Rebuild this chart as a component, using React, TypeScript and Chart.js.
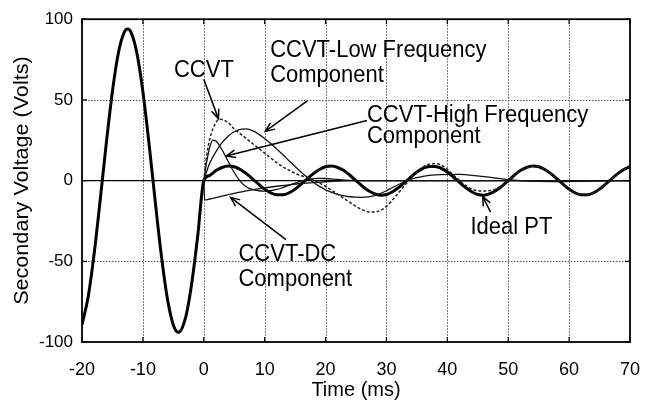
import React, { useEffect, useRef } from "react";
import { Chart, registerables } from "chart.js";

Chart.register(...registerables);

// ---------- data ----------
const xTicks = [-20, -10, 0, 10, 20, 30, 40, 50, 60, 70];
const yTicks = [-100, -50, 0, 50, 100];

// Ideal PT (bold)
const tIdeal = [
  -20, -19, -18, -17, -16, -15, -14, -13, -12.5, -12, -11, -10, -9, -8, -7, -6, -5, -4.2, -3, -2, -1,
  0, 1, 2, 3, 4, 5, 6, 7, 8, 9, 10, 11, 12, 13, 14, 15, 16, 17, 18, 19, 20,
  21, 22, 23, 24, 25, 26, 27, 28, 29, 30, 31, 32, 33, 34, 35, 36, 37, 38, 39, 40,
  41, 42, 43, 44, 45, 46, 47, 48, 49, 50, 51, 52, 53, 54, 55, 56, 57, 58, 59, 60,
  61, 62, 63, 64, 65, 66, 67, 68, 69, 70,
];
const vIdeal = [
  -89.3, -72.3, -45.1, -11.6, 23.5, 55.4, 79.5, 92.4, 94, 92.3, 79.3, 55.1, 23.2, -11.9, -45.4, -72.6, -89.5, -94, -85.0, -64.2, -34.5,
  0, 3.3, 6.2, 8.1, 9.0, 8.6, 6.9, 4.3, 1.1, -2.2, -5.3, -7.6, -8.8, -8.8, -7.6, -5.3, -2.2, 1.1, 4.3, 6.9, 8.6,
  9.0, 8.1, 6.2, 3.3, 0, -3.3, -6.2, -8.1, -9.0, -8.6, -6.9, -4.3, -1.1, 2.2, 5.3, 7.6, 8.8, 8.8, 7.6, 5.3,
  2.2, -1.1, -4.3, -6.9, -8.6, -9.0, -8.1, -6.2, -3.3, 0, 3.3, 6.2, 8.1, 9.0, 8.6, 6.9, 4.3, 1.1, -2.2, -5.3,
  -7.6, -8.8, -8.8, -7.6, -5.3, -2.2, 1.1, 4.3, 6.9, 8.6,
];

// CCVT output (dashed)
const tCcvt = [
  0, 0.5, 1, 1.5, 2, 2.5, 3, 4, 5, 6, 7, 8, 9, 10, 11, 12, 13, 14, 15, 16, 17, 18, 19, 20,
  21, 22, 23, 24, 25, 26, 27, 28, 29, 30, 31, 32, 33, 34, 35, 36, 37, 38, 39, 40,
  41, 42, 43, 44, 45, 46, 47, 48, 49, 50, 51, 52, 53, 54, 55, 56, 57, 58, 59, 60,
  61, 62, 63, 64, 65, 66, 67, 68, 69, 70,
];
const vCcvt = [
  0, 16, 26, 32, 36, 38, 37.8, 36, 32, 29, 26, 23, 20, 17, 14, 11, 8.5, 6.5, 4.5, 3, 2, 0.5, -1.5, -3.5,
  -6, -8.5, -11, -13.5, -16, -18, -19.3, -19.5, -18.5, -16, -12, -7.5, -3, 1.5, 5.5, 8.5, 10.2, 10.5, 9.5, 7,
  3.5, 0, -3, -5.2, -6.3, -6.5, -6.2, -5.2, -3, 0, 3.3, 6.2, 8.1, 9.0, 8.6, 6.9, 4.3, 1.1, -2.2, -5.3,
  -7.6, -8.8, -8.8, -7.6, -5.3, -2.2, 1.1, 4.3, 6.9, 8.6,
];

// CCVT low frequency component
const tLow = [
  0, 0.5, 1, 2, 3, 4, 5, 6, 7, 8, 9, 10, 11, 12, 13, 14, 15, 16, 17, 18, 19, 20,
  21, 22, 23, 24, 25, 26, 27, 28, 29, 30, 31, 32, 33, 34, 35, 36, 37, 38, 40,
  42, 44, 46, 48, 50, 52, 55, 58, 62, 66, 70,
];
const vLow = [
  0, 6, 11, 18, 23.5, 27.5, 30.3, 31.7, 32, 31, 28.8, 26, 23, 19.5, 16, 12.3, 8.7, 5.2, 2, -1, -3.6, -5.7,
  -7.3, -8.5, -9.4, -10, -10.3, -10.4, -10.1, -9.3, -8, -6.3, -4.3, -2.4, -0.7, 0.7, 1.8, 2.6, 3.2, 3.6, 3.9,
  3.8, 3.3, 2.5, 1.5, 0.6, 0, -0.5, -0.6, -0.4, -0.1, 0,
];

// CCVT high frequency component
const tHigh = [
  0, 0.5, 1, 1.5, 2, 3, 4, 5, 6, 7, 8, 9, 10, 11, 12, 13, 14, 15, 16, 17, 18, 19, 20, 22, 24, 26, 40, 55, 70,
];
const vHigh = [
  0, 12, 21, 25, 24.5, 19, 12, 5, -0.5, -4, -5.5, -6.3, -6.5, -6.3, -5.5, -4.3, -3, -1.6, -0.4, 0.6, 1.2, 1.4, 1.3, 0.7, 0.2, 0, 0, 0, 0,
];

// CCVT DC component
const tDc = [0, 0.15, 1, 2, 3, 4, 5, 6, 8, 10, 12, 14, 16, 18, 20, 22, 25, 40, 55, 70];
const vDc = [0, -12, -11.4, -10.5, -9.6, -8.7, -7.9, -7.1, -5.7, -4.5, -3.5, -2.6, -1.8, -1.2, -0.7, -0.3, 0, 0, 0, 0];

// ---------- annotations (data coordinates) ----------
const textItems = [
  { text: "CCVT", x: -4.9, y: 64 },
  { text: "CCVT-Low Frequency", x: 10.9, y: 76.8 },
  { text: "Component", x: 10.9, y: 61 },
  { text: "CCVT-High Frequency", x: 26.8, y: 36.6 },
  { text: "Component", x: 26.8, y: 23.2 },
  { text: "CCVT-DC", x: 5.7, y: -50 },
  { text: "Component", x: 5.7, y: -65.5 },
  { text: "Ideal PT", x: 43.8, y: -33 },
];
const arrows = [
  { x1: 0, y1: 62.8, x2: 2.4, y2: 38.4 },
  { x1: 17.0, y1: 49.4, x2: 10.1, y2: 30.5 },
  { x1: 26.8, y1: 37.2, x2: 3.7, y2: 15.2 },
  { x1: 13.5, y1: -36.6, x2: 4.4, y2: -10.4 },
  { x1: 47.1, y1: -19.5, x2: 45.8, y2: -9.8 },
];

const FONT = "'Liberation Sans', Arial, Helvetica, sans-serif";

const toXY = (t: number[], v: number[]) => t.map((tt, i) => ({ x: tt, y: v[i] }));

const decorPlugin = {
  id: "decor",
  beforeDatasetsDraw(chart: any) {
    const { ctx, chartArea: a, scales } = chart;
    const sx = scales.x;
    const sy = scales.y;
    ctx.save();
    ctx.strokeStyle = "#555";
    ctx.lineWidth = 1;
    ctx.setLineDash([1.5, 1.5]);
    for (const t of xTicks) {
      if (t <= -20 || t >= 70) continue;
      const px = Math.round(sx.getPixelForValue(t)) + 0.5;
      ctx.beginPath();
      ctx.moveTo(px, a.top);
      ctx.lineTo(px, a.bottom);
      ctx.stroke();
    }
    for (const v of yTicks) {
      if (v === 0 || Math.abs(v) >= 100) continue;
      const py = Math.round(sy.getPixelForValue(v)) + 0.5;
      ctx.beginPath();
      ctx.moveTo(a.left, py);
      ctx.lineTo(a.right, py);
      ctx.stroke();
    }
    ctx.setLineDash([]);
    ctx.strokeStyle = "#000";
    ctx.lineWidth = 1.4;
    const p0 = sy.getPixelForValue(0);
    ctx.beginPath();
    ctx.moveTo(a.left, p0);
    ctx.lineTo(a.right, p0);
    ctx.stroke();
    ctx.restore();
  },
  afterDatasetsDraw(chart: any) {
    const { ctx, chartArea: a, scales } = chart;
    const sx = scales.x;
    const sy = scales.y;
    ctx.save();
    // frame
    ctx.strokeStyle = "#000";
    ctx.lineWidth = 1.8;
    ctx.strokeRect(a.left, a.top, a.right - a.left, a.bottom - a.top);
    // inner ticks
    ctx.lineWidth = 1.2;
    const tl = 5;
    for (const t of xTicks) {
      const px = sx.getPixelForValue(t);
      ctx.beginPath();
      ctx.moveTo(px, a.bottom);
      ctx.lineTo(px, a.bottom - tl);
      ctx.moveTo(px, a.top);
      ctx.lineTo(px, a.top + tl);
      ctx.stroke();
    }
    for (const v of yTicks) {
      const py = sy.getPixelForValue(v);
      ctx.beginPath();
      ctx.moveTo(a.left, py);
      ctx.lineTo(a.left + tl, py);
      ctx.moveTo(a.right, py);
      ctx.lineTo(a.right - tl, py);
      ctx.stroke();
    }
    // arrows
    ctx.lineWidth = 1.5;
    for (const ar of arrows) {
      const x1 = sx.getPixelForValue(ar.x1);
      const y1 = sy.getPixelForValue(ar.y1);
      const x2 = sx.getPixelForValue(ar.x2);
      const y2 = sy.getPixelForValue(ar.y2);
      ctx.beginPath();
      ctx.moveTo(x1, y1);
      ctx.lineTo(x2, y2);
      ctx.stroke();
      const ang = Math.atan2(y2 - y1, x2 - x1);
      const hl = 10;
      const hw = 0.4;
      ctx.beginPath();
      ctx.moveTo(x2 - hl * Math.cos(ang - hw), y2 - hl * Math.sin(ang - hw));
      ctx.lineTo(x2, y2);
      ctx.lineTo(x2 - hl * Math.cos(ang + hw), y2 - hl * Math.sin(ang + hw));
      ctx.stroke();
    }
    // annotation texts
    ctx.fillStyle = "#000";
    ctx.font = `22px ${FONT}`;
    ctx.textAlign = "left";
    ctx.textBaseline = "alphabetic";
    for (const it of textItems) {
      const px = sx.getPixelForValue(it.x);
      const py = sy.getPixelForValue(it.y);
      ctx.save();
      ctx.translate(px, py);
      ctx.scale(1, 1.1);
      ctx.fillText(it.text, 0, 0);
      ctx.restore();
    }
    // axis titles
    ctx.font = `20px ${FONT}`;
    ctx.textAlign = "center";
    ctx.textBaseline = "middle";
    ctx.fillText("Time (ms)", (a.left + a.right) / 2, 390);
    ctx.save();
    ctx.translate(22, (a.top + a.bottom) / 2);
    ctx.rotate(-Math.PI / 2);
    ctx.scale(1.08, 1);
    ctx.fillText("Secondary Voltage (Volts)", 0, 0);
    ctx.restore();
    ctx.restore();
  },
};

export default function App() {
  const ref = useRef<HTMLCanvasElement | null>(null);
  useEffect(() => {
    if (!ref.current) return;
    const common = { pointRadius: 0, fill: false, cubicInterpolationMode: "monotone" as const };
    const chart = new Chart(ref.current, {
      type: "line",
      data: {
        datasets: [
          { ...common, label: "CCVT", data: toXY(tCcvt, vCcvt), borderColor: "#222", borderWidth: 1.5, borderDash: [3, 2] },
          { ...common, label: "CCVT-Low Frequency Component", data: toXY(tLow, vLow), borderColor: "#111", borderWidth: 1.3 },
          { ...common, label: "CCVT-High Frequency Component", data: toXY(tHigh, vHigh), borderColor: "#111", borderWidth: 1.3 },
          { ...common, label: "CCVT-DC Component", data: toXY(tDc, vDc), borderColor: "#111", borderWidth: 1.3 },
          { ...common, label: "Ideal PT", data: toXY(tIdeal, vIdeal), borderColor: "#000", borderWidth: 3 },
        ],
      },
      options: {
        animation: false,
        responsive: false,
        devicePixelRatio: 1,
        layout: { padding: { top: 14, right: 22, left: 0, bottom: 0 } },
        plugins: { legend: { display: false }, tooltip: { enabled: false } },
        scales: {
          x: {
            type: "linear",
            min: -20,
            max: 70,
            afterBuildTicks: (s: any) => { s.ticks = xTicks.map((v) => ({ value: v })); },
            grid: { display: false, drawTicks: false },
            border: { display: false },
            ticks: { color: "#000", font: { family: FONT, size: 18 }, padding: 17, maxRotation: 0 },
            afterFit: (s: any) => { s.height = 59; },
          },
          y: {
            type: "linear",
            min: -100,
            max: 100,
            afterBuildTicks: (s: any) => { s.ticks = yTicks.map((v) => ({ value: v })); },
            grid: { display: false, drawTicks: false },
            border: { display: false },
            ticks: { color: "#000", font: { family: FONT, size: 17 }, padding: 9 },
            afterFit: (s: any) => { s.width = 82; },
          },
        },
      },
      plugins: [decorPlugin],
    });
    return () => chart.destroy();
  }, []);
  return (
    <div style={{ position: "fixed", left: 0, top: 0, width: 657, height: 401, background: "#fff" }}>
      <canvas ref={ref} width={657} height={401} style={{ display: "block" }} />
    </div>
  );
}
